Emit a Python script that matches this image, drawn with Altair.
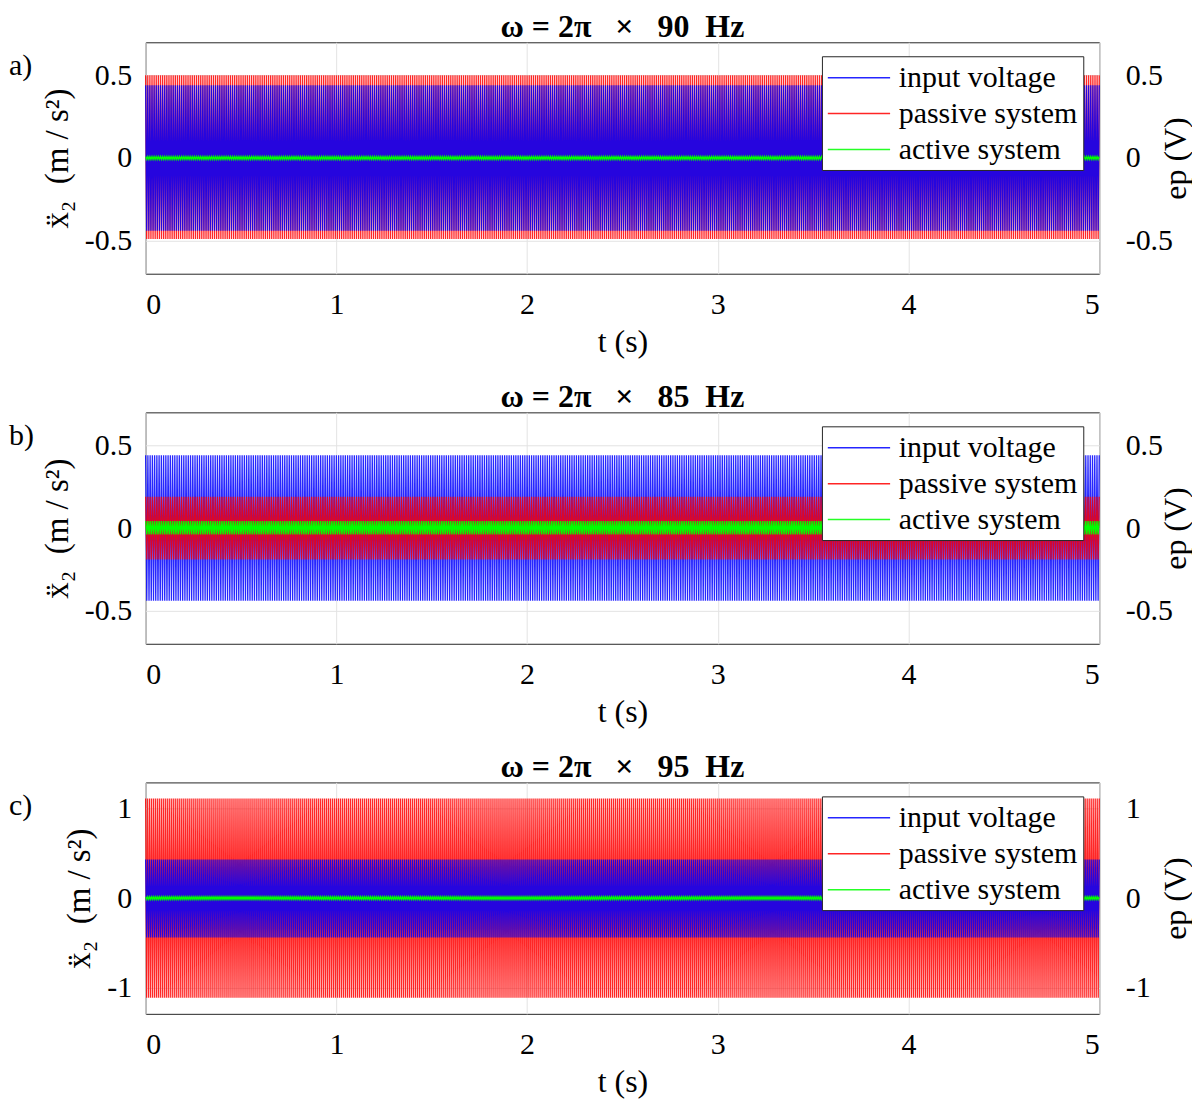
import altair as alt
import numpy as np
import pandas as pd

# ---- values ----
panel_tags = ["a)", "b)", "c)"]
freqs_hz = [90, 85, 95]            # excitation frequency in each panel title
duration_s = 5
series_names = ["input voltage", "passive system", "active system"]
series_colors = ["#0000ff", "#ff0000", "#00ff00"]

# upper / lower peak of each series (m/s^2), per panel
upper_peaks = [
    [0.44, 0.50, 0.009],
    [0.44, 0.19, 0.042],
    [0.43, 1.11, 0.016],
]
lower_peaks = [
    [-0.44, -0.49, -0.009],
    [-0.44, -0.19, -0.038],
    [-0.44, -1.11, -0.016],
]
y_limits = [0.70, 0.70, 1.29]
y_ticks = [[-0.5, 0, 0.5], [-0.5, 0, 0.5], [-1, 0, 1]]
x_ticks = [0, 1, 2, 3, 4, 5]

FONT = "Liberation Serif"
PW, PH = 956, 232
NB = "\u00a0"


def series_frame(i, j):
    f = freqs_hz[i]
    n = 2 * f * duration_s
    k = np.arange(n + 1)
    pk = np.array([upper_peaks[i][j], lower_peaks[i][j]])
    return pd.DataFrame({
        "t": k / (2.0 * f),
        "y": pk[k % 2],
        "series": series_names[j],
    })


def panel(i):
    ydom = [-y_limits[i], y_limits[i]]
    df = pd.concat([series_frame(i, j) for j in range(3)], ignore_index=True)
    color = alt.Color(
        "series:N",
        scale=alt.Scale(domain=series_names, range=series_colors),
        legend=alt.Legend(
            title=None, orient="none", legendX=678, legendY=14,
            symbolType="M-1,0H3", symbolSize=975, symbolStrokeWidth=1.5,
            labelFont=FONT, labelFontSize=30, labelColor="black", labelLimit=400,
            labelOffset=39, padding=5, rowPadding=4,
            fillColor="white", strokeColor="#262626",
        ),
    )
    base = alt.Chart(df).encode(
        x=alt.X("t:Q", scale=alt.Scale(domain=[0, duration_s], nice=False, zero=False),
                axis=alt.Axis(values=x_ticks, title="t (s)", format="d")),
        y=alt.Y("y:Q", scale=alt.Scale(domain=ydom, nice=False),
                axis=alt.Axis(values=y_ticks[i],
                              title=f"ẍ₂{NB}{NB}(m{NB}/{NB}s²)", orient="left",
                              labelExpr="'' + datum.value")),
        color=color,
        order="t:Q",
    )
    amp = [upper_peaks[i][j] - lower_peaks[i][j] for j in range(2)]
    order = sorted(range(2), key=lambda j: -amp[j]) + [2]
    line_layers = []
    for j in order:
        line_layers.append(
            base.transform_filter(alt.datum.series == series_names[j])
            .mark_line(strokeWidth=1.3, opacity=0.85 if j < 2 else 1)
        )
    tag = alt.Chart(pd.DataFrame({"tag": [panel_tags[i]]})).mark_text(
        font=FONT, fontSize=30, align="left", baseline="middle", color="black"
    ).encode(x=alt.value(-137), y=alt.value(24), text="tag:N")
    lines = alt.layer(*line_layers, tag)
    right = alt.Chart(pd.DataFrame({"v": ydom})).mark_point(opacity=0).encode(
        y=alt.Y("v:Q", scale=alt.Scale(domain=ydom, nice=False),
                axis=alt.Axis(orient="right", values=y_ticks[i], title="ep (V)",
                              grid=False, titleAngle=270, titleBaseline="middle",
                              titleAlign="center", titleX=76, titleY=PH / 2,
                              titleFontSize=32,
                              labelAlign="left", labelExpr="'' + datum.value",
                              labelPadding=26))
    )
    title_txt = f"ω = 2π{NB * 3}×{NB * 3}{freqs_hz[i]}{NB * 2}Hz"
    return alt.layer(lines, right).resolve_scale(y="independent").properties(
        width=PW, height=PH,
        title=alt.TitleParams(title_txt, font=FONT, fontSize=32,
                              fontWeight="bold", offset=-4, color="black"),
    )


chart = alt.vconcat(*[panel(i) for i in range(3)], spacing=21).resolve_scale(
    color="independent"
).resolve_legend(color="independent").configure(
    padding=0,
).configure_view(
    stroke="#262626", strokeWidth=1,
).configure_axis(
    labelFont=FONT, labelFontSize=30, labelColor="black",
    titleFont=FONT, titleFontSize=32, titleFontWeight="normal", titleColor="black",
    domain=False, ticks=False, grid=True, gridColor="#e3e3e3", gridWidth=1,
    labelPadding=16, titlePadding=7,
).configure_axisY(
    labelPadding=14, titlePadding=10, titleFontSize=33,
)

chart.save("out.html", embed_options={"renderer": "svg", "actions": False})
